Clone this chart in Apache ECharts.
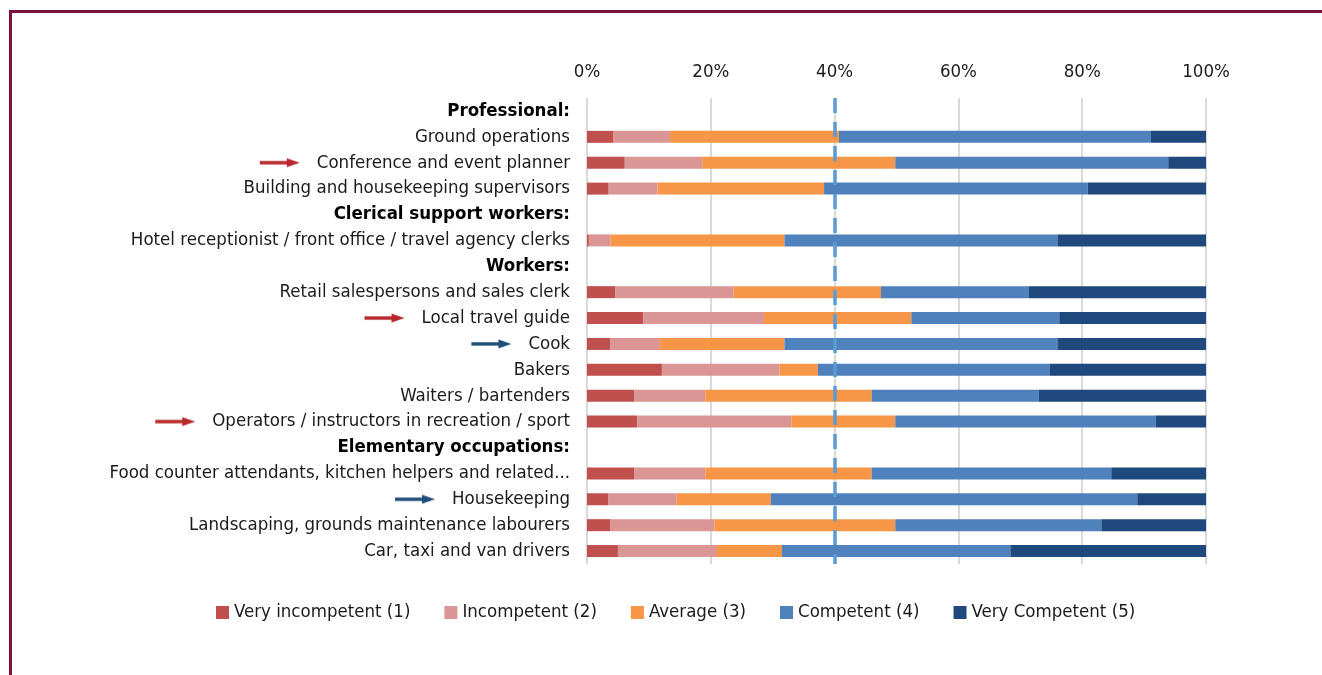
<!DOCTYPE html>
<html>
<head>
<meta charset="utf-8">
<script src="https://cdn.jsdelivr.net/npm/echarts@6/dist/echarts.min.js"></script>
<style>
  html, body { margin: 0; padding: 0; background: #fff; }
  #frame {
    position: absolute;
    left: 9px;
    top: 10px;
    width: 1320px;
    height: 670px;
    border-top: 3px solid #7a1240;
    border-left: 3px solid #7a1240;
  }
  #chart {
    position: absolute;
    left: 0;
    top: 0;
    width: 1322px;
    height: 675px;
  }
</style>
</head>
<body>
<div id="frame"></div>
<div id="chart"></div>
<script>
// rows top to bottom; headers have no bars
const categories = [
  'Professional:',
  'Ground operations',
  'Conference and event planner',
  'Building and housekeeping supervisors',
  'Clerical support workers:',
  'Hotel receptionist / front office / travel agency clerks',
  'Workers:',
  'Retail salespersons and sales clerk',
  'Local travel guide',
  'Cook',
  'Bakers',
  'Waiters / bartenders',
  'Operators / instructors in recreation / sport',
  'Elementary occupations:',
  'Food counter attendants, kitchen helpers and related...',
  'Housekeeping',
  'Landscaping, grounds maintenance labourers',
  'Car, taxi and van drivers'
]
const headers = ['Professional:', 'Clerical support workers:', 'Workers:', 'Elementary occupations:']
const redArrows = ['Conference and event planner', 'Local travel guide', 'Operators / instructors in recreation / sport']
const blueArrows = ['Cook', 'Housekeeping']

const seriesNames = ['Very incompetent (1)', 'Incompetent (2)', 'Average (3)', 'Competent (4)', 'Very Competent (5)']
const veryIncompetent = [null, 4.2, 6.1, 3.5, null, 0.3, null, 4.6, 9.1, 3.8, 12.1, 7.6, 8.1, null, 7.6, 3.4, 3.8, 5.0]
const incompetent     = [null, 9.2, 12.5, 7.9, null, 3.5, null, 19.1, 19.5, 8.0, 19.0, 11.5, 24.9, null, 11.5, 11.1, 16.8, 16.0]
const average         = [null, 27.3, 31.2, 26.9, null, 28.1, null, 23.8, 23.8, 20.1, 6.2, 26.9, 16.8, null, 26.9, 15.2, 29.2, 10.5]
const competent       = [null, 50.4, 44.1, 42.6, null, 44.1, null, 23.9, 23.9, 44.1, 37.5, 27.0, 42.1, null, 38.7, 59.2, 33.3, 36.9]
const veryCompetent   = [null, 8.9, 6.1, 19.1, null, 24.0, null, 28.6, 23.7, 24.0, 25.2, 27.0, 8.1, null, 15.3, 11.1, 16.9, 31.6]
const xTicks = [0, 20, 40, 60, 80, 100]
const thresholdLine = 40

const colors = ['#c0504d', '#d99694', '#f79646', '#4f81bd', '#1f497d']
const fontFamily = '"DejaVu Sans Condensed", "Liberation Sans Narrow", sans-serif'
const fontSize = 18.5

function arrowImage(color) {
  const c = document.createElement('canvas')
  c.width = 40
  c.height = 10
  const ctx = c.getContext('2d')
  ctx.fillStyle = color
  ctx.fillRect(0, 3.3, 29, 3.4)
  ctx.beginPath()
  ctx.moveTo(27, 0.5)
  ctx.lineTo(40, 5)
  ctx.lineTo(27, 9.5)
  ctx.closePath()
  ctx.fill()
  return c.toDataURL()
}

const chart = echarts.init(document.getElementById('chart'))

const values = [veryIncompetent, incompetent, average, competent, veryCompetent]

const option = {
  animation: false,
  color: colors,
  textStyle: { fontFamily: fontFamily },
  grid: {
    left: 587,
    right: 116,
    top: 98,
    bottom: 111,
    containLabel: false
  },
  legend: {
    data: seriesNames,
    left: 211,
    top: 598,
    itemWidth: 13,
    itemHeight: 13,
    itemGap: 34,
    icon: 'rect',
    textStyle: { fontSize: fontSize, color: '#1a1a1a', fontFamily: fontFamily }
  },
  xAxis: {
    type: 'value',
    position: 'top',
    min: xTicks[0],
    max: xTicks[xTicks.length - 1],
    interval: 20,
    axisLine: { show: false },
    axisTick: { show: false },
    axisLabel: {
      formatter: '{value}%',
      fontSize: fontSize,
      color: '#1a1a1a',
      margin: 16
    },
    splitLine: {
      lineStyle: { color: '#d9d9d9', width: 2 }
    }
  },
  yAxis: {
    type: 'category',
    inverse: true,
    data: categories,
    axisLine: { show: false },
    axisTick: { show: false },
    axisLabel: {
      margin: 17,
      fontSize: fontSize,
      color: '#1a1a1a',
      formatter: function (v) {
        if (headers.indexOf(v) >= 0) return '{h|' + v + '}'
        if (redArrows.indexOf(v) >= 0) return '{ar|}{sp|}{n|' + v + '}'
        if (blueArrows.indexOf(v) >= 0) return '{ab|}{sp|}{n|' + v + '}'
        return '{n|' + v + '}'
      },
      rich: {
        h: { fontSize: fontSize, fontWeight: 'bold', color: '#000', fontFamily: fontFamily },
        n: { fontSize: fontSize, color: '#1a1a1a', fontFamily: fontFamily },
        ar: { width: 40, height: 10, backgroundColor: { image: arrowImage('#b8272a') } },
        ab: { width: 40, height: 10, backgroundColor: { image: arrowImage('#1f4e79') } },
        sp: { width: 17, height: 10 }
      }
    }
  },
  series: seriesNames.map(function (name, i) {
    const s = {
      name: name,
      type: 'bar',
      stack: 'total',
      barWidth: 12,
      data: values[i],
      itemStyle: { color: colors[i] }
    }
    if (i === seriesNames.length - 1) {
      s.markLine = {
        silent: true,
        symbol: 'none',
        label: { show: false },
        lineStyle: { color: '#5b9bd5', width: 3.5, type: [15, 9] },
        data: [{ xAxis: thresholdLine }]
      }
    }
    return s
  })
}

chart.setOption(option)
</script>
</body>
</html>
